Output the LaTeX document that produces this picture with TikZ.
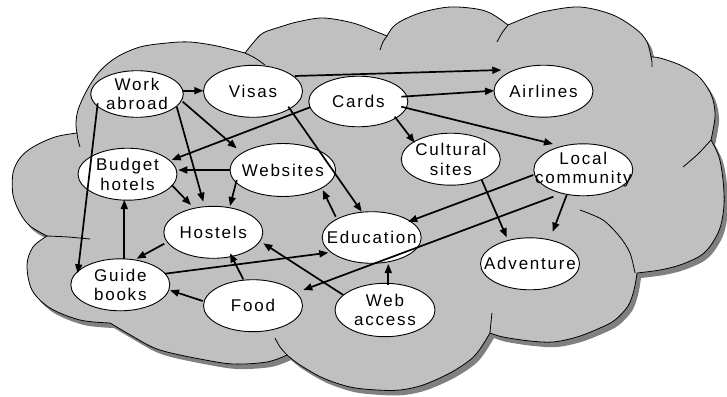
\documentclass[tikz,border=0pt]{standalone}
\usepackage{fontspec}
\setmainfont{Liberation Sans}[LetterSpace=10.5]
\usetikzlibrary{shapes.geometric,arrows.meta,calc}
\definecolor{cloudfill}{RGB}{192,192,192}
\definecolor{cloudshadow}{RGB}{128,128,128}
\newcommand\cloudoutline[1]{%
\path[#1] plot[smooth,tension=0.55] coordinates {(77,133) (76,124) (78,110) (87,90) (100,71) (117,57) (140,47) (167,43) (190,42) (217,46) (245,53)}
 -- plot[smooth,tension=0.55] coordinates {(245,53) (253,43) (263,33) (280,27) (297,22) (323,18) (353,23) (377,32) (387,36)}
 -- plot[smooth,tension=0.55] coordinates {(387,36) (393,27) (403,20) (423,12) (450,7) (477,9) (492,14) (508,25)}
 -- plot[smooth,tension=0.55] coordinates {(508,25) (530,16) (547,11) (580,7) (613,15) (637,30) (647,42) (651,57)}
 -- plot[smooth,tension=0.55] coordinates {(651,57) (660,58) (680,65) (697,75) (707,87) (713,100) (715,117) (711,140)}
 -- plot[smooth,tension=0.55] coordinates {(711,140) (719,157) (723,180) (724,205) (720,228) (711,245) (700,256) (680,265) (660,270) (637,273)}
 -- plot[smooth,tension=0.55] coordinates {(637,273) (634,290) (628,306) (615,320) (600,328) (577,337) (553,342) (530,341) (503,337) (490,333)}
 -- plot[smooth,tension=0.55] coordinates {(490,333) (480,349) (470,360) (450,373) (423,385) (400,390) (377,390) (350,387) (323,378) (300,365) (287,355)}
 -- plot[smooth,tension=0.55] coordinates {(287,355) (267,362) (233,364) (200,359) (167,352) (150,346) (127,333) (110,323)}
 -- plot[smooth,tension=0.55] coordinates {(110,323) (80,320) (50,308) (32,290) (27,265) (33,247) (47,236)}
 -- plot[smooth,tension=0.55] coordinates {(47,236) (30,226) (20,213) (13,195) (13,173) (20,158) (33,147) (55,137) (77,133)}
 -- cycle;}
\tikzset{
  bub/.style={ellipse, draw=black, fill=white, line width=0.9pt, inner sep=0pt,
    minimum width=99pt, minimum height=52pt},
  lab/.style={align=center, inner sep=0pt, font=\fontsize{17}{19.5}\selectfont},
  conn/.style={line width=1.7pt, -{Triangle[length=9pt,width=7pt]}},
  tail/.style={line width=0.8pt},
}
\begin{document}
\begin{tikzpicture}[x=1pt,y=-1pt]
\useasboundingbox (0,0) rectangle (727,396);
% cloud
\cloudoutline{fill=cloudshadow, shift={(4,5)}}
\cloudoutline{fill=cloudfill, draw=black, line width=0.8pt}
\draw[tail] plot[smooth] coordinates {(77,133) (78,140) (80,147)};
\draw[tail] plot[smooth] coordinates {(245,53) (255,58) (265,65)};
\draw[tail] plot[smooth] coordinates {(387,36) (383,42) (380,50)};
\draw[tail] plot[smooth] coordinates {(508,25) (502,33) (497,42)};
\draw[tail] plot[smooth] coordinates {(651,57) (652,62) (652,67)};
\draw[tail] plot[smooth] coordinates {(711,140) (698,154) (683,167)};
\draw[tail] plot[smooth] coordinates {(580,210) (603,220) (620,237) (630,253) (635,273)};
\draw[tail] plot[smooth] coordinates {(490,333) (491,322) (492,313)};
\draw[tail] plot[smooth] coordinates {(287,355) (280,347) (275,338)};
\draw[tail] plot[smooth] coordinates {(47,236) (68,237) (90,239)};
% ellipses
\node[bub, minimum width=92.6pt, minimum height=46.6pt] (wa) at (137,94) {};
\node[bub] (vi) at (253,91.3) {};
\node[bub, minimum height=50.6pt] (ca) at (358.3,101.5) {};
\node[bub] (ai) at (543.5,91.2) {};
\node[bub] (cs) at (450.8,159.2) {};
\node[bub] (lc) at (583.3,169.8) {};
\node[bub] (bh) at (127.5,174.2) {};
\node[bub, minimum width=105.6pt, minimum height=53pt] (we) at (282.8,170) {};
\node[bub] (ho) at (213.3,232.3) {};
\node[bub, minimum height=51.6pt] (ed) at (371.7,237.5) {};
\node[bub] (gb) at (120.3,284.8) {};
\node[bub] (fo) at (253,305.7) {};
\node[bub, minimum width=100pt, minimum height=53.4pt] (wb) at (385,310) {};
\node[bub] (ad) at (530,263.8) {};
% connectors
\draw[conn] ($(wa)+(46.3,-3.3)$) -- ($(vi)+(-49.7,-0.6)$);
\draw[conn] ($(vi)+(42,-15.3)$) -- ($(ai)+(-42.2,-21.2)$);
\draw[conn] ($(ca)+(43,-4.8)$) -- ($(ai)+(-49.5,-0.5)$);
\draw[conn] ($(ca)+(43,5.2)$) -- ($(lc)+(-30.3,-25.8)$);
\draw[conn] ($(ca)+(36.4,15.2)$) -- ($(cs)+(-36.1,-16.5)$);
\draw[conn] ($(ca)+(-48.3,5.8)$) -- ($(bh)+(44.2,-14.2)$);
\draw[conn] ($(vi)+(35.3,15.4)$) -- ($(ed)+(-10,-25.8)$);
\draw[conn] ($(wa)+(45.7,7.7)$) -- ($(we)+(-46.1,-21.7)$);
\draw[conn] ($(wa)+(39.7,12.7)$) -- ($(ho)+(-10,-30.6)$);
\draw[conn] ($(wa)+(-39.3,9.3)$) -- ($(gb)+(-42.6,-11.5)$);
\draw[conn] ($(we)+(-52.8,0)$) -- ($(bh)+(50.8,-4.2)$);
\draw[conn] ($(we)+(-46.1,10)$) -- ($(ho)+(16.7,-26.3)$);
\draw[conn] ($(bh)+(44.2,10.8)$) -- ($(ho)+(-22.3,-27.3)$);
\draw[conn] ($(ed)+(-36,-20.8)$) -- ($(we)+(39.9,20)$);
\draw[conn] ($(lc)+(-50,5.2)$) -- ($(ed)+(36.6,-15.8)$);
\draw[conn] ($(lc)+(-30,26.9)$) -- ($(fo)+(50.3,-15.7)$);
\draw[conn] ($(lc)+(-16.6,25.2)$) -- ($(ad)+(22.7,-32.1)$);
\draw[conn] ($(cs)+(30.9,20.8)$) -- ($(ad)+(-23.3,-26.5)$);
\draw[conn] ($(wb)+(3.3,-25)$) -- ($(ed)+(16.6,26.5)$);
\draw[conn] ($(wb)+(-41.7,-15)$) -- ($(ho)+(50,11)$);
\draw[conn] ($(gb)+(44.7,-11.1)$) -- ($(ed)+(-43.4,15.2)$);
\draw[conn] ($(gb)+(4,-26.1)$) -- ($(bh)+(-3.2,25.8)$);
\draw[conn] ($(ho)+(-49,11.4)$) -- ($(gb)+(16.4,-26.1)$);
\draw[conn] ($(fo)+(-9.7,-26.4)$) -- ($(ho)+(16.7,21)$);
\draw[conn] ($(fo)+(-50.3,-4.7)$) -- ($(gb)+(49.7,5.5)$);
% labels
\node[lab] (wa-t) at (wa) {Work\\abroad};
\node[lab] (vi-t) at (vi) {Visas};
\node[lab] (ca-t) at (ca) {Cards};
\node[lab] (ai-t) at (ai) {Airlines};
\node[lab] (cs-t) at (cs) {Cultural\\sites};
\node[lab] (lc-t) at (lc) {Local\\community};
\node[lab] (bh-t) at (bh) {Budget\\hotels};
\node[lab] (we-t) at (we) {Websites};
\node[lab] (ho-t) at (ho) {Hostels};
\node[lab] (ed-t) at (ed) {Education};
\node[lab] (gb-t) at (gb) {Guide\\books};
\node[lab] (fo-t) at (fo) {Food};
\node[lab] (wb-t) at (wb) {Web\\access};
\node[lab] (ad-t) at (ad) {Adventure};
\end{tikzpicture}
\end{document}
